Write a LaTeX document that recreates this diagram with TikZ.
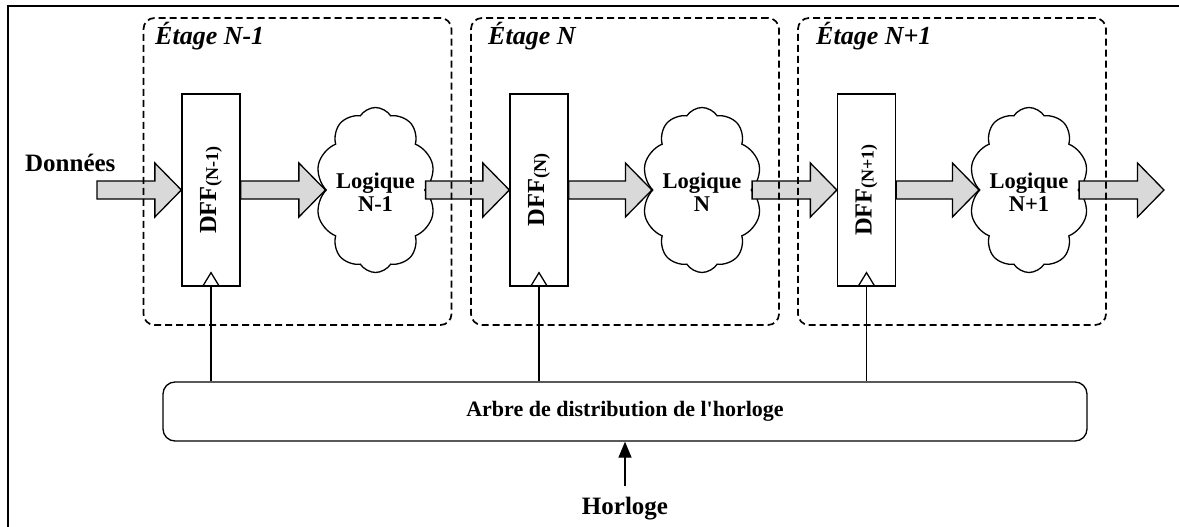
\documentclass[tikz,border=0pt]{standalone}
\usepackage{fontspec}
\setmainfont{Liberation Serif}
\usetikzlibrary{shapes.symbols,arrows.meta,calc}
\newcommand{\fatarrow}[2]{%
  \path[fatarr] let \p1=(#1), \p2=(#2) in
    (\x1,\y1+9pt) -- (\x2-26.5pt,\y1+9pt) -- (\x2-26.5pt,\y1+27pt) -- (\x2,\y1)
    -- (\x2-26.5pt,\y1-27pt) -- (\x2-26.5pt,\y1-9pt) -- (\x1,\y1-9pt) -- cycle;}
\begin{document}
\begin{tikzpicture}[x=1pt,y=-1pt,
  stagebox/.style={draw,dash pattern=on 7pt off 4pt,line width=1.7pt,rounded corners=11pt,
    minimum width=308pt,minimum height=307pt,inner sep=0pt},
  dffbox/.style={draw,line width=1.3pt,minimum width=58pt,minimum height=192pt,inner sep=0pt},
  logic/.style={draw,cloud,cloud puffs=10,cloud puff arc=115,cloud ignores aspect,
    minimum width=120pt,minimum height=165pt,inner sep=0pt,line width=1.3pt},
  fatarr/.style={draw,line width=1.3pt,fill=gray!30},
  thinline/.style={draw,line width=1.3pt},
  stagelab/.style={font=\bfseries\itshape\fontsize{26}{26}\selectfont,anchor=base west,inner sep=0pt},
  bigtxt/.style={font=\bfseries\fontsize{25}{25}\selectfont},
  logtxt/.style={font=\bfseries\fontsize{22.5}{23}\selectfont,align=center},
  dfftxt/.style={font=\bfseries\fontsize{24.5}{24.5}\selectfont,rotate=90,inner sep=0pt},
  treebox/.style={draw,line width=1.3pt,rounded corners=12pt,minimum width=924pt,minimum height=59pt,
    font=\bfseries\fontsize{22}{22}\selectfont},
  clockarr/.style={draw,line width=1.3pt,-{Triangle[length=16pt,width=13pt]}}
]
\useasboundingbox (0,0) rectangle (1179,527);
% outer frame (only top and left edges are visible)
\draw[line width=1.5pt] (8,540) -- (8,6) -- (1190,6);

% flip-flops
\node[dffbox] (dff1) at (211,190) {};
\node[dffbox] (dff2) at (539,190) {};
\node[dffbox] (dff3) at (866.5,190) {};
\node[dfftxt] (dfft1) at (dff1.center) {DFF\raisebox{-2pt}{\fontsize{18}{18}\selectfont(N-1)}};
\node[dfftxt] (dfft2) at (dff2.center) {DFF\raisebox{-2pt}{\fontsize{18}{18}\selectfont(N)}};
\node[dfftxt] (dfft3) at (dff3.center) {DFF\raisebox{-2pt}{\fontsize{18}{18}\selectfont(N+1)}};

% logic clouds
\node[logic] (log1) at (375.5,190) {};
\node[logic] (log2) at (702,190) {};
\node[logic] (log3) at (1029,190) {};
\node[logtxt] (logt1) at (375.5,192) {Logique\\N-1};
\node[logtxt] (logt2) at (702,192) {Logique\\N};
\node[logtxt] (logt3) at (1029,192) {Logique\\N+1};

% data path
\coordinate (din) at (97,190);
\coordinate (dout) at (1164,190);
\node[bigtxt,anchor=base west,inner sep=0pt] (donnees) at (25,171) {Données};
\fatarrow{din}{dff1.west}
\fatarrow{dff1.east}{log1.west}
\fatarrow{log1.east}{dff2.west}
\fatarrow{dff2.east}{log2.west}
\fatarrow{log2.east}{dff3.west}
\fatarrow{dff3.east}{log3.west}
\fatarrow{log3.east}{dout}

% stages
\node[stagebox] (st1) at (297.5,171.5) {};
\node[stagebox] (st2) at (625,171.5) {};
\node[stagebox] (st3) at (952,171.5) {};
\node[stagelab] (lab1) at (155,45) {Étage N-1};
\node[stagelab] (lab2) at (488,45) {Étage N};
\node[stagelab] (lab3) at (816,45) {Étage N+1};

% clock tree
\node[treebox] (tree) at (625,411.5) {Arbre de distribution de l\textquotesingle horloge};
\foreach \i in {1,2,3}{
  \draw[thinline] (dff\i.south) -- (dff\i.south |- tree.north);
  \draw[thinline] (dff\i.south) ++(-8.5,0) -- ++(8.5,-14) -- ++(8.5,14);
}
\node[bigtxt,anchor=base,inner sep=10pt] (horloge) at (625,514) {Horloge};
\draw[clockarr] (horloge.north) -- (tree.south);
\end{tikzpicture}
\end{document}
